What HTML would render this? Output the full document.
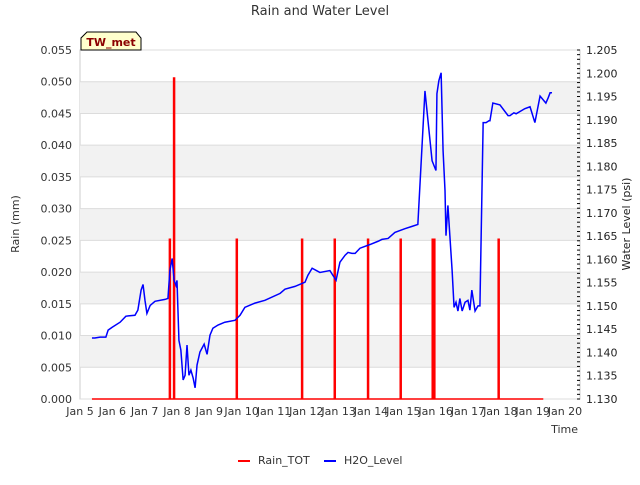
<!DOCTYPE html>
<html><head><meta charset="utf-8"><style>
body{margin:0;background:#fff;font-family:"Liberation Sans","DejaVu Sans",sans-serif;}
svg text{font-family:"DejaVu Sans","Liberation Sans",sans-serif;}
</style></head><body>
<svg id="c" width="640" height="480" xmlns="http://www.w3.org/2000/svg"></svg>
<script>
const rainDays=[7.78,7.91,9.85,11.87,12.88,13.91,14.92,15.91,15.96,17.95];
const rainVals=[0.0253,0.0507,0.0253,0.0253,0.0253,0.0253,0.0253,0.0253,0.0253,0.0253];
const wlDays=[5.37,5.46,5.62,5.80,5.87,5.99,6.24,6.42,6.70,6.79,6.89,6.95,7.01,7.07,7.17,7.32,7.63,7.72,7.78,7.85,7.91,7.97,8.00,8.06,8.12,8.19,8.25,8.31,8.37,8.43,8.50,8.56,8.62,8.71,8.84,8.93,9.02,9.11,9.27,9.48,9.79,9.95,10.10,10.41,10.72,11.19,11.34,11.65,11.96,12.05,12.18,12.42,12.73,12.92,13.04,13.20,13.29,13.41,13.51,13.66,13.97,14.22,14.34,14.53,14.74,15.05,15.27,15.45,15.67,15.89,16.01,16.04,16.10,16.14,16.17,16.23,16.29,16.32,16.38,16.44,16.51,16.57,16.63,16.69,16.75,16.82,16.91,17.00,17.06,17.12,17.22,17.31,17.37,17.47,17.56,17.65,17.68,17.77,17.99,18.24,18.30,18.42,18.49,18.76,18.92,19.07,19.23,19.35,19.41,19.48,19.54,19.60,19.69,19.79];
const wlVals=[1.1431,1.1431,1.1433,1.1433,1.1448,1.1454,1.1465,1.1478,1.1480,1.1491,1.1534,1.1546,1.1512,1.1484,1.1501,1.1510,1.1514,1.1516,1.1576,1.1602,1.1555,1.1544,1.1555,1.1426,1.1405,1.1341,1.1351,1.1416,1.1351,1.1362,1.1345,1.1324,1.1373,1.1401,1.1418,1.1396,1.1437,1.1452,1.1459,1.1465,1.1469,1.1480,1.1497,1.1506,1.1512,1.1527,1.1536,1.1542,1.1551,1.1566,1.1581,1.1572,1.1576,1.1555,1.1594,1.1609,1.1615,1.1613,1.1613,1.1624,1.1632,1.1639,1.1643,1.1645,1.1658,1.1666,1.1671,1.1675,1.1962,1.1812,1.1791,1.1956,1.1984,1.1994,1.2001,1.1834,1.1748,1.1651,1.1716,1.1651,1.1576,1.1497,1.1508,1.1489,1.1516,1.1489,1.1508,1.1512,1.1491,1.1534,1.1489,1.1500,1.1500,1.1894,1.1894,1.1898,1.1898,1.1936,1.1932,1.1909,1.1909,1.1915,1.1913,1.1924,1.1928,1.1894,1.1951,1.1941,1.1936,1.1947,1.1958,1.1958];
const wlDaysAdj=wlDays.slice(0,wlVals.length);
const xTicks=["Jan 5","Jan 6","Jan 7","Jan 8","Jan 9","Jan 10","Jan 11","Jan 12","Jan 13","Jan 14","Jan 15","Jan 16","Jan 17","Jan 18","Jan 19","Jan 20"];
const yLeftTicks=[0,0.005,0.010,0.015,0.020,0.025,0.030,0.035,0.040,0.045,0.050,0.055];
const yRightTicks=[1.130,1.135,1.140,1.145,1.150,1.155,1.160,1.165,1.170,1.175,1.180,1.185,1.190,1.195,1.200,1.205];

const L=80,R=580,T=50,B=399;
const xs=d=>L+(d-5)*32.33;
const yl=v=>B-v/0.055*(B-T);
const yr=v=>B-(v-1.13)/0.075*(B-T);
const svg=document.getElementById('c');
const NS='http://www.w3.org/2000/svg';
function mk(tag,attrs,parent){const e=document.createElementNS(NS,tag);for(const k in attrs)e.setAttribute(k,attrs[k]);(parent||svg).appendChild(e);return e;}
function txt(s,attrs){const e=mk('text',attrs);e.textContent=s;return e;}

let e;
e=mk('rect',{x:L,y:T,width:R-L,height:B-T,fill:'#fff',stroke:'#ccc'});


for(let i=1;i<11;i+=2){
  e=mk('rect',{x:L,y:yl(yLeftTicks[i+1]),width:R-L,height:yl(yLeftTicks[i])-yl(yLeftTicks[i+1]),fill:'#f2f2f2'});
  
  
}
yLeftTicks.forEach(v=>{
  e=mk('line',{x1:L,x2:R,y1:yl(v),y2:yl(v),stroke:'#dcdcdc','stroke-width':1});
  
  
  e=txt(v.toFixed(3),{x:L-8,y:yl(v)+4,'text-anchor':'end','font-size':11,fill:'#333'});
  
  
});
yRightTicks.forEach(v=>{
  e=txt(v.toFixed(3),{x:586,y:yr(v)+4,'font-size':11,fill:'#222'});
  
  
});
for(let v=1.130;v<=1.2051;v+=0.001){
  e=mk('line',{x1:R-3,x2:R,y1:yr(v),y2:yr(v),stroke:'#000','stroke-width':1});
  
  
}
xTicks.forEach((s,i)=>{
  e=txt(s,{x:xs(5+i),y:415,'text-anchor':'middle','font-size':11,fill:'#333'});
  
  
});
// rain zero line
e=mk('line',{x1:xs(5.37),x2:xs(19.33),y1:yl(0),y2:yl(0),stroke:'#f00','stroke-width':1.5});


rainDays.forEach((d,i)=>{
  e=mk('line',{x1:xs(d),x2:xs(d),y1:yl(0),y2:yl(rainVals[i]),stroke:'#f00','stroke-width':2.5});
  
  
});
e=mk('polyline',{points:wlDaysAdj.map((d,i)=>xs(d)+','+yr(wlVals[i])).join(' '),fill:'none',stroke:'#00f','stroke-width':1.5});



e=txt('Rain and Water Level',{x:320,y:15,'text-anchor':'middle','font-size':13,fill:'#333'});


e=txt('Rain (mm)',{x:19,y:224,'text-anchor':'middle','font-size':11,fill:'#333',transform:'rotate(-90 19 224)'});


e=txt('Water Level (psi)',{x:630,y:224,'text-anchor':'middle','font-size':11,fill:'#222',transform:'rotate(-90 630 224)'});


e=txt('Time',{x:578,y:433,'text-anchor':'end','font-size':11,fill:'#333'});


e=mk('polygon',{points:'81,50 81,38 87,32 136,32 141,38 141,50',fill:'#ffffcc',stroke:'#000','stroke-width':1});


e=txt('TW_met',{x:111,y:46,'text-anchor':'middle','font-size':11,'font-weight':'bold',fill:'#8b0000'});


e=mk('line',{x1:238,x2:250,y1:461,y2:461,stroke:'#f00','stroke-width':2});


e=txt('Rain_TOT',{x:258,y:464,'font-size':11,fill:'#333'});


e=mk('line',{x1:324,x2:336,y1:461,y2:461,stroke:'#00f','stroke-width':2});


e=txt('H2O_Level',{x:344,y:464,'font-size':11,fill:'#333'});


</script>
</body></html>
